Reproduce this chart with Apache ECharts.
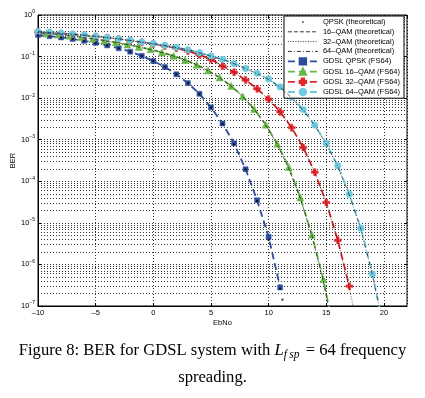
<!DOCTYPE html>
<html>
<head>
<meta charset="utf-8">
<style>
  html, body { margin: 0; padding: 0; background: #fff; }
  #chart { width: 425px; height: 398px; }
</style>
<script src="https://cdn.jsdelivr.net/npm/echarts@6/dist/echarts.min.js"></script>
</head>
<body>
<div id="chart"></div>
<script>
// BER curves (EbNo in dB)
var theoQpskEbNo = [-10, -9, -8, -7, -6, -5, -4, -3, -2, -1, 0, 1, 2, 3, 4, 5, 6, 7, 8, 9, 10, 11, 11.2];
var theoQpskBer = [3.27e-1, 3.08e-1, 2.87e-1, 2.64e-1, 2.39e-1, 2.13e-1, 1.86e-1, 1.58e-1, 1.31e-1, 1.04e-1,
  7.86e-2, 5.63e-2, 3.75e-2, 2.29e-2, 1.25e-2, 5.95e-3, 2.39e-3, 7.73e-4, 1.91e-4, 3.36e-5, 3.87e-6, 2.61e-7, 1.42e-7];

var gdslQpskEbNo = [-10, -9, -8, -7, -6, -5, -4, -3, -2, -1, 0, 1, 2, 3, 4, 5, 6, 7, 8, 9, 10, 11];
var gdslQpskBer = [3.30e-1, 3.10e-1, 2.88e-1, 2.65e-1, 2.40e-1, 2.14e-1, 1.86e-1, 1.59e-1, 1.31e-1, 1.04e-1,
  7.80e-2, 5.60e-2, 3.75e-2, 2.30e-2, 1.27e-2, 6.00e-3, 2.45e-3, 8.20e-4, 1.95e-4, 3.50e-5, 4.60e-6, 2.80e-7];

var qam16EbNo = [-10.25, -9.25, -8.25, -7.25, -6.25, -5.25, -4.25, -3.25, -2.25, -1.25, -0.25, 0.75, 1.75,
  2.75, 3.75, 4.75, 5.75, 6.75, 7.75, 8.75, 9.75, 10.75, 11.75, 12.75, 13.75, 14.75, 15.75];
var theo16Ber = [3.75e-1, 3.58e-1, 3.38e-1, 3.16e-1, 2.93e-1, 2.68e-1, 2.43e-1, 2.18e-1, 1.93e-1, 1.70e-1,
  1.47e-1, 1.25e-1, 1.03e-1, 8.25e-2, 6.32e-2, 4.59e-2, 3.11e-2, 1.94e-2, 1.09e-2, 5.37e-3, 2.25e-3,
  7.67e-4, 2.03e-4, 3.89e-5, 4.97e-6, 3.84e-7, 1.57e-8];
var gdsl16Ber = [3.76e-1, 3.59e-1, 3.39e-1, 3.17e-1, 2.94e-1, 2.69e-1, 2.44e-1, 2.19e-1, 1.94e-1, 1.71e-1,
  1.49e-1, 1.26e-1, 1.04e-1, 8.30e-2, 6.40e-2, 4.65e-2, 3.15e-2, 1.97e-2, 1.11e-2, 5.50e-3, 2.30e-3,
  8.00e-4, 2.20e-4, 4.10e-5, 5.20e-6, 4.40e-7, 1.80e-8];

var qam32EbNo = [-10, -9, -8, -7, -6, -5, -4, -3, -2, -1, 0, 1, 2, 3, 4, 5, 6, 7, 8, 9, 10, 11, 12, 13, 14, 15, 16, 17, 18];
var theo32Ber = [3.89e-1, 3.72e-1, 3.55e-1, 3.39e-1, 3.24e-1, 3.02e-1, 2.82e-1, 2.63e-1, 2.40e-1, 2.19e-1,
  2.00e-1, 1.78e-1, 1.58e-1, 1.35e-1, 1.10e-1, 8.51e-2, 5.89e-2, 4.17e-2, 2.69e-2, 1.66e-2, 9.33e-3,
  4.57e-3, 1.91e-3, 6.31e-4, 1.62e-4, 3.02e-5, 3.72e-6, 2.82e-7, 1.07e-8];
var gdsl32Ber = [3.90e-1, 3.73e-1, 3.56e-1, 3.40e-1, 3.25e-1, 3.03e-1, 2.83e-1, 2.64e-1, 2.41e-1, 2.20e-1,
  2.01e-1, 1.79e-1, 1.59e-1, 1.36e-1, 1.10e-1, 8.60e-2, 5.95e-2, 4.20e-2, 2.72e-2, 1.68e-2, 9.50e-3,
  4.70e-3, 1.95e-3, 6.50e-4, 1.66e-4, 3.10e-5, 3.80e-6, 3.00e-7];

var qam64EbNo = [-10, -9, -8, -7, -6, -5, -4, -3, -2, -1, 0, 1, 2, 3, 4, 5, 6, 7, 8, 9, 10, 11, 12, 13, 14, 15, 16, 17, 18, 19, 20];
var theo64Ber = [3.98e-1, 3.80e-1, 3.63e-1, 3.47e-1, 3.31e-1, 3.09e-1, 2.88e-1, 2.69e-1, 2.45e-1, 2.24e-1,
  2.04e-1, 1.86e-1, 1.66e-1, 1.45e-1, 1.23e-1, 1.02e-1, 8.51e-2, 6.76e-2, 5.13e-2, 3.89e-2, 2.82e-2,
  1.82e-2, 1.02e-2, 5.13e-3, 2.19e-3, 7.94e-4, 2.29e-4, 4.68e-5, 7.08e-6, 5.62e-7, 2.63e-8];
var gdsl64Ber = [4.00e-1, 3.82e-1, 3.65e-1, 3.48e-1, 3.32e-1, 3.10e-1, 2.89e-1, 2.70e-1, 2.46e-1, 2.25e-1,
  2.05e-1, 1.87e-1, 1.67e-1, 1.46e-1, 1.24e-1, 1.03e-1, 8.60e-2, 6.85e-2, 5.20e-2, 3.95e-2, 2.88e-2,
  1.86e-2, 1.05e-2, 5.30e-3, 2.25e-3, 8.20e-4, 2.35e-4, 4.90e-5, 7.40e-6, 5.90e-7, 2.80e-8];

var legendNames = ['QPSK (theoretical)', '16\u2013QAM (theoretical)', '32\u2013QAM (theoretical)', '64\u2013QAM (theoretical)',
  'GDSL QPSK (FS64)', 'GDSL 16\u2013QAM (FS64)', 'GDSL 32\u2013QAM (FS64)', 'GDSL 64\u2013QAM (FS64)'];

var xTickMin = -10;
var xTickMax = 22;

function pairs(xs, ys) {
  var out = [];
  for (var i = 0; i < ys.length; i++) {
    out.push([xs[i], ys[i]]);
  }
  return out;
}

// dotted minor grid at 2..9 x 10^k (matlab style log grid)
var minorGrid = [];
for (var k = -7; k < 0; k++) {
  for (var m = 2; m <= 9; m++) {
    minorGrid.push({ yAxis: m * Math.pow(10, k) });
  }
}

var font = 'Liberation Sans, Arial, Helvetica, sans-serif';
var serif = 'Liberation Serif, Times New Roman, serif';
var gridDots = { color: '#000', width: 0.8, type: [1, 2] };
var dotPath = 'path://M0,0 M10,10 M4,4 L6,4 L6,6 L4,6 Z';
var plusPath = 'path://M3.3,0 L6.7,0 L6.7,3.3 L10,3.3 L10,6.7 L6.7,6.7 L6.7,10 L3.3,10 L3.3,6.7 L0,6.7 L0,3.3 L3.3,3.3 Z';

var blue = '#2c4c9c';
var green = '#67b846';
var red = '#e3262a';
var cyan = '#6ecbe0';

function gdslSeries(name, data, color, symbol, size) {
  return {
    name: name,
    type: 'line',
    data: data,
    symbol: symbol,
    symbolSize: size,
    showAllSymbol: true,
    clip: true,
    z: 3,
    itemStyle: { color: color, borderColor: color, borderWidth: 0.5 },
    lineStyle: { color: color, width: 1.8, type: [7, 4] }
  };
}

function theoSeries(name, data, dash) {
  return {
    name: name,
    type: 'line',
    data: data,
    symbol: 'circle',
    showSymbol: false,
    clip: true,
    z: 4,
    itemStyle: { color: '#000' },
    lineStyle: { color: '#000', width: 0.6, type: dash }
  };
}

var chart = echarts.init(document.getElementById('chart'), null, { renderer: 'canvas' });

var option = {
  animation: false,
  backgroundColor: '#fff',
  title: {
    text: '{t|Figure 8: BER for GDSL system with }{m|L}{s|f\u2009sp}{t| = 64 frequency}\n{t|spreading.}',
    left: 'center',
    top: 332,
    textStyle: {
      fontWeight: 'normal',
      rich: {
        t: { fontFamily: serif, fontSize: 16.6, fontWeight: 'normal', lineHeight: 27, color: '#000' },
        m: { fontFamily: serif, fontSize: 16.6, fontWeight: 'normal', fontStyle: 'italic', lineHeight: 27, color: '#000' },
        s: { fontFamily: serif, fontSize: 11.5, fontWeight: 'normal', fontStyle: 'italic', lineHeight: 27, padding: [9, 2, 0, 0], color: '#000' }
      }
    }
  },
  grid: {
    left: 38, right: 18, top: 15, bottom: 92,
    show: true, borderColor: '#000', borderWidth: 1,
    outerBoundsMode: 'none'
  },
  legend: {
    data: legendNames.map(function (n, i) {
      if (i === 0) return { name: n };
      if (i < 4) return { name: n, itemStyle: { opacity: 0 }, lineStyle: { width: 0.8 } };
      return { name: n, lineStyle: { width: 1.8 } };
    }),
    orient: 'vertical',
    right: 21,
    top: 16,
    itemWidth: 30,
    itemHeight: 8,
    itemGap: 1.8,
    padding: [2, 4, 2, 3],
    backgroundColor: '#fff',
    borderColor: '#000',
    borderWidth: 1,
    borderRadius: 0,
    selectedMode: false,
    textStyle: { fontFamily: font, fontSize: 7.5, color: '#000', lineHeight: 8 }
  },
  xAxis: [{
    type: 'value',
    min: xTickMin,
    max: xTickMax,
    interval: 5,
    name: 'EbNo',
    nameLocation: 'middle',
    nameGap: 13,
    nameMoveOverlap: false,
    nameTextStyle: { fontFamily: font, fontSize: 7.5, color: '#000' },
    axisLine: { show: true, onZero: false, lineStyle: { color: '#000', width: 1 } },
    axisTick: { show: true, inside: true, length: 3, lineStyle: { color: '#000' } },
    axisLabel: {
      fontFamily: font, fontSize: 7.5, color: '#000', margin: 3, showMaxLabel: false,
      formatter: function (v) { return String(v).replace('-', '\u2013'); }
    },
    splitLine: { show: true, lineStyle: gridDots }
  }, {
    type: 'value',
    position: 'top',
    min: xTickMin,
    max: xTickMax,
    interval: 5,
    axisLine: { show: false },
    axisTick: { show: true, inside: true, length: 3, lineStyle: { color: '#000' } },
    axisLabel: { show: false },
    splitLine: { show: false }
  }],
  yAxis: [{
    type: 'log',
    logBase: 10,
    min: 1e-7,
    max: 1,
    name: 'BER',
    nameLocation: 'middle',
    nameGap: 21,
    nameRotate: 90,
    nameMoveOverlap: false,
    nameTextStyle: { fontFamily: font, fontSize: 7.5, color: '#000' },
    axisLine: { show: true, onZero: false, lineStyle: { color: '#000', width: 1 } },
    axisTick: { show: true, inside: true, length: 3, lineStyle: { color: '#000' } },
    axisLabel: {
      margin: 3,
      formatter: function (v) {
        var e = Math.round(Math.log(v) / Math.LN10);
        return '{b|10}{e|' + String(e).replace('-', '\u2212') + '}';
      },
      rich: {
        b: { fontFamily: font, fontSize: 7.5, color: '#000' },
        e: { fontFamily: font, fontSize: 5, color: '#000', padding: [0, 0, 6, 0] }
      }
    },
    splitLine: { show: true, lineStyle: gridDots }
  }, {
    type: 'log',
    logBase: 10,
    min: 1e-7,
    max: 1,
    position: 'right',
    axisLine: { show: false, onZero: false },
    axisTick: { show: true, inside: true, length: 3, lineStyle: { color: '#000' } },
    axisLabel: { show: false },
    splitLine: { show: false }
  }],
  series: [
    {
      name: legendNames[0],
      type: 'scatter',
      data: pairs(theoQpskEbNo, theoQpskBer),
      symbol: dotPath,
      symbolSize: 10,
      clip: true,
      z: 4,
      itemStyle: { color: '#000' },
      markLine: {
        silent: true,
        symbol: ['none', 'none'],
        precision: 12,
        z: 1,
        label: { show: false },
        lineStyle: gridDots,
        emphasis: { disabled: true },
        data: minorGrid
      }
    },
    theoSeries(legendNames[1], pairs(qam16EbNo, theo16Ber), [4, 2]),
    theoSeries(legendNames[2], pairs(qam32EbNo, theo32Ber), [1, 1.5]),
    theoSeries(legendNames[3], pairs(qam64EbNo, theo64Ber), [4, 2, 1, 2]),
    gdslSeries(legendNames[4], pairs(gdslQpskEbNo, gdslQpskBer), blue, 'rect', 5),
    gdslSeries(legendNames[5], pairs(qam16EbNo, gdsl16Ber), green, 'triangle', 7),
    gdslSeries(legendNames[6], pairs(qam32EbNo, gdsl32Ber), red, plusPath, 7),
    gdslSeries(legendNames[7], pairs(qam64EbNo, gdsl64Ber), cyan, 'circle', 6.5)
  ]
};

chart.setOption(option);
</script>
</body>
</html>
